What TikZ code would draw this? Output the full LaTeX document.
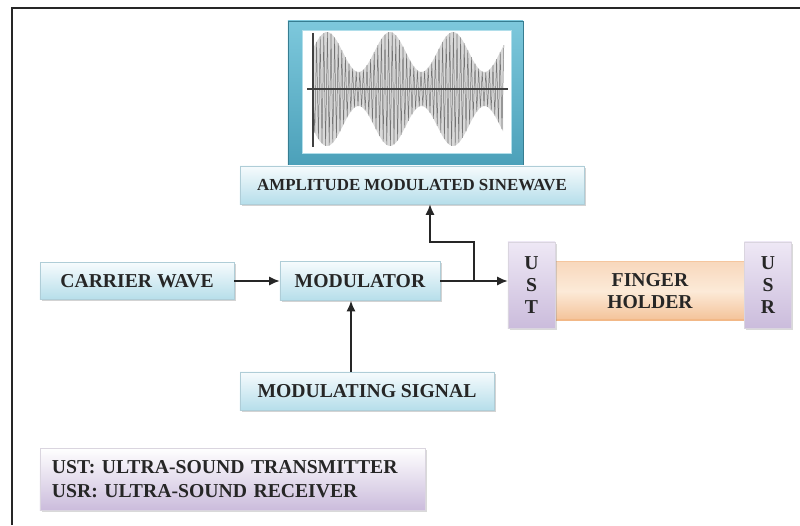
\documentclass[tikz,border=0pt]{standalone}
\usepackage{fontspec}
\setmainfont{Liberation Serif}
\usetikzlibrary{positioning,arrows.meta,shadows,calc}

\definecolor{boxtop}{RGB}{246,251,253}
\definecolor{boxbot}{RGB}{182,222,234}
\definecolor{boxedge}{RGB}{175,205,215}
\definecolor{lavtop}{RGB}{238,232,245}
\definecolor{lavbot}{RGB}{203,188,220}
\definecolor{peach}{RGB}{252,234,216}
\definecolor{peachedge}{RGB}{242,184,135}
\definecolor{scrtop}{RGB}{125,200,220}
\definecolor{scrbot}{RGB}{75,160,185}
\definecolor{scredge}{RGB}{55,125,145}

\begin{document}
\begin{tikzpicture}[x=0.025cm, y=-0.025cm,
  blk/.style={draw=boxedge, top color=boxtop, bottom color=boxbot,
              drop shadow={shadow xshift=1.3pt, shadow yshift=-1.3pt, opacity=.35},
              font=\bfseries\fontsize{14}{17}\selectfont, text=black!85,
              inner sep=0pt, minimum width=#1},
  lav/.style={draw=lavbot!80!black!40, top color=lavtop, bottom color=lavbot,
              drop shadow={shadow xshift=1.3pt, shadow yshift=-1.3pt, opacity=.3},
              font=\bfseries\fontsize{14}{15.6}\selectfont, text=black!85,
              align=center, inner sep=0pt, minimum width=1.18cm, minimum height=2.15cm},
  arr/.style={-{Latex[length=7.5pt,width=6.5pt]}, line width=1pt, black!85},
  wave/.style={black!55, line width=0.35pt},
]
\useasboundingbox (0,0) rectangle (800,525);

% outer frame
\draw[line width=1.3pt, black!85] (12,525) -- (12,8) -- (800,8);

% display with the AM wave
\node[top color=scrtop, bottom color=scrbot, draw=scredge, line width=0.6pt,
      minimum width=5.875cm, minimum height=3.65cm, inner sep=0pt] (scr) at (405.5,94) {};
\node[fill=white, draw=scrtop!60, minimum width=5.225cm, minimum height=3.075cm,
      inner sep=0pt] (disp) at (406.5,91.5) {};
\fill[black!15] plot[domain=313:503, samples=90] (\x,{89-(37+20*cos(5.7143*(\x-327)))})
  -- plot[domain=503:313, samples=90] (\x,{89+(37+20*cos(5.7143*(\x-327)))}) -- cycle;
\draw[wave] (313,89) \foreach \k in {1,...,106} {
  -- ({313+1.8*\k},{89-(1-2*mod(\k,2))*(37+20*cos(5.7143*(1.8*\k-14)))}) };
\draw[black!75, line width=0.8pt] (307,89) -- (508,89);
\draw[black!75, line width=0.8pt] (313,33) -- (313,147);

% blocks
\node[blk=8.6cm, minimum height=0.95cm, font=\bfseries\fontsize{12}{14}\selectfont]
  (ams) at (412,185) {AMPLITUDE MODULATED SINEWAVE};
\node[blk=4.85cm, minimum height=0.925cm] (carrier) at (137,281) {CARRIER WAVE};
\node[blk=4cm, minimum height=0.975cm] (mod) at (360,281) {MODULATOR};
\node[blk=6.35cm, minimum height=0.95cm] (modsig) at (367,391) {MODULATING SIGNAL};

\node[draw=none, top color=peachedge!55!white, bottom color=peachedge!85!white,
      middle color=peach, minimum width=4.75cm, minimum height=1.45cm, inner sep=0pt,
      align=center, font=\bfseries\fontsize{14}{15.6}\selectfont, text=black!85]
  (finger) at (650,291) {FINGER\\HOLDER};
\draw[peachedge!80, line width=1pt] (finger.north west) -- (finger.north east);
\draw[peachedge, line width=1.2pt] (finger.south west) -- (finger.south east);
\node[lav] (ust) at (531.5,285) {U\\S\\T};
\node[lav] (usr) at (768,285) {U\\S\\R};

% legend
\node[draw=lavbot!80!black!40, top color=white, bottom color=lavbot,
      drop shadow={shadow xshift=1.3pt, shadow yshift=-1.3pt, opacity=.3},
      minimum width=9.625cm, minimum height=1.55cm, text width=9.025cm,
      inner xsep=0.3cm, align=left, font=\bfseries\fontsize{14}{17.5}\selectfont,
      text=black!85]
  (legend) at (232.5,479) {UST: ULTRA-SOUND TRANSMITTER\\USR: ULTRA-SOUND RECEIVER};

% connectors
\draw[arr] (carrier) -- (mod);
\draw[arr] (mod.east) -- (mod.east -| ust.west);
\coordinate (tap) at ($(mod.east)!0.5!(mod.east -| ust.west)$);
\coordinate (knee) at (430,242);
\draw[arr] (tap) |- (knee) -- (knee |- ams.south);
\draw[arr] ([xshift=-0.225cm]mod.south |- modsig.north) -- ([xshift=-0.225cm]mod.south);
\end{tikzpicture}
\end{document}
